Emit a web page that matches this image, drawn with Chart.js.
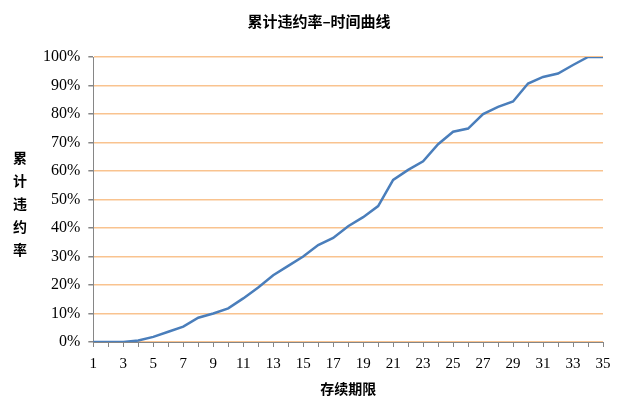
<!DOCTYPE html>
<html>
<head>
<meta charset="utf-8">
<script src="https://cdn.jsdelivr.net/npm/chart.js@4"></script>
<style>
  body { margin: 0; background: #fff; }
  .wrap { position: relative; width: 640px; height: 402px; }
  .ylabel {
    position: absolute; left: 10px; top: 146px; width: 20px;
    font-family: "Noto Sans CJK SC", sans-serif; font-weight: bold;
    font-size: 14px; line-height: 23px; text-align: center; color: #000;
  }
</style>
</head>
<body>
<div class="wrap">
  <canvas id="cdrChart" width="640" height="402"></canvas>
  <!-- vertical y-axis title, one character per line -->
  <div class="ylabel">累<br>计<br>违<br>约<br>率</div>
</div>
<script>
const periods = ['1','2','3','4','5','6','7','8','9','10','11','12','13','14','15','16','17','18',
  '19','20','21','22','23','24','25','26','27','28','29','30','31','32','33','34','35'];
const cumulativeDefault = [0, 0, 0, 0.5, 1.8, 3.6, 5.4, 8.5, 10, 11.8, 15.3, 19.1, 23.4, 26.7, 30,
  34, 36.5, 40.6, 43.8, 47.7, 56.9, 60.4, 63.4, 69.4, 73.8, 74.9, 80, 82.5, 84.4, 90.7, 93, 94.2,
  97.2, 100, 100];
const yTicks = [0, 10, 20, 30, 40, 50, 60, 70, 80, 90, 100];

const serif = 'Liberation Serif';
const cjk = 'Noto Sans CJK SC';

new Chart(document.getElementById('cdrChart').getContext('2d'), {
  type: 'line',
  data: {
    labels: periods,
    datasets: [{
      data: cumulativeDefault,
      borderColor: '#4A7EBB',
      borderWidth: 2.5,
      pointRadius: 0,
      tension: 0,
      fill: false
    }]
  },
  options: {
    responsive: false,
    animation: false,
    layout: { padding: { left: 35, right: 37, top: 0, bottom: 6 } },
    plugins: {
      legend: { display: false },
      tooltip: { enabled: false },
      title: {
        display: true,
        text: '累计违约率–时间曲线',
        color: '#000',
        font: { family: cjk, size: 15, weight: 'bold' },
        padding: { top: 12, bottom: 27 }
      }
    },
    scales: {
      x: {
        offset: false,
        border: { color: '#868686', width: 1 },
        grid: { display: true, drawOnChartArea: false, tickLength: 5, tickColor: '#868686' },
        ticks: {
          autoSkip: false,
          maxRotation: 0,
          color: '#000',
          padding: 10,
          font: { family: serif, size: 15, lineHeight: 1 },
          callback: (v, i) => (i % 2 === 0 ? periods[i] : '')
        },
        title: {
          display: true,
          text: '存续期限',
          color: '#000',
          font: { family: cjk, size: 14, weight: 'bold', lineHeight: 1 },
          padding: { top: 0, bottom: 0 }
        }
      },
      y: {
        min: 0,
        max: 100,
        afterBuildTicks: axis => { axis.ticks = yTicks.map(v => ({ value: v })); },
        border: { color: '#868686', width: 1 },
        grid: { color: '#F9C38F', lineWidth: 1.5, tickLength: 5, tickColor: '#868686' },
        ticks: {
          color: '#000',
          padding: 8,
          font: { family: serif, size: 16 },
          callback: v => v + '%'
        }
      }
    }
  }
});
</script>
</body>
</html>
